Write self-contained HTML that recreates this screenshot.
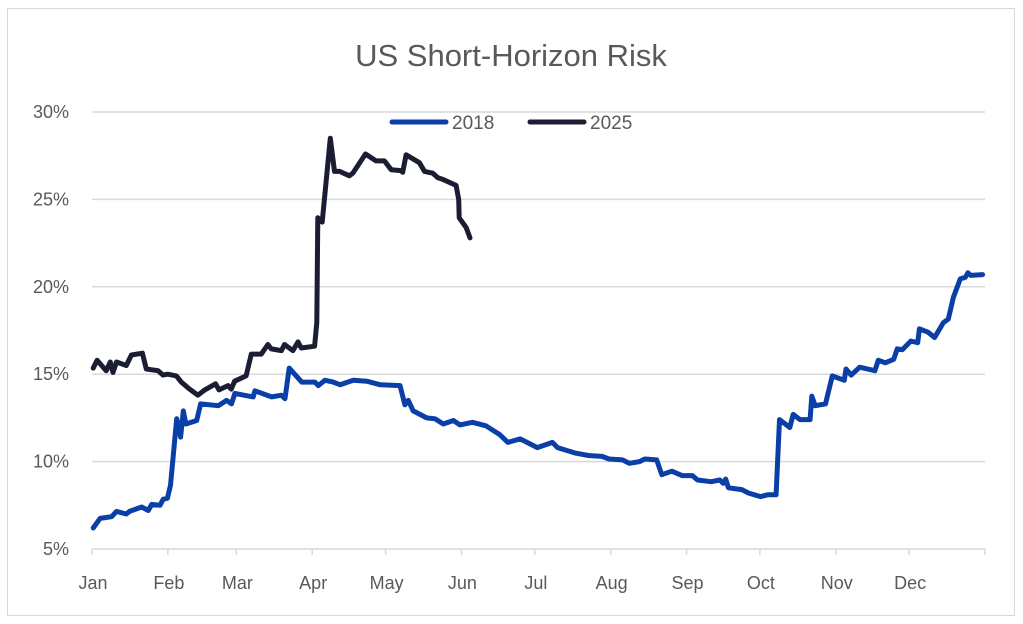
<!DOCTYPE html>
<html><head><meta charset="utf-8"><style>
body{margin:0;background:#fff;}
svg{display:block;font-family:"Liberation Sans",Arial,sans-serif;}
</style></head><body>
<svg width="1023" height="624" viewBox="0 0 1023 624">
<rect x="7.5" y="8.5" width="1007" height="607" fill="#fff" stroke="#d9d9d9"/>
<text x="511" y="66" text-anchor="middle" font-size="31" fill="#595959">US Short-Horizon Risk</text>
<g id="grid"></g><g id="axes"></g><g id="series"></g>
<g>
<line x1="392" y1="122" x2="446" y2="122" stroke="#0a3fa8" stroke-width="5" stroke-linecap="round"/>
<text x="452" y="129" font-size="19" fill="#595959">2018</text>
<line x1="530" y1="122" x2="584" y2="122" stroke="#1b1d33" stroke-width="5" stroke-linecap="round"/>
<text x="590" y="129" font-size="19" fill="#595959">2025</text>
</g>
</svg>
<script>
const months=["Jan","Feb","Mar","Apr","May","Jun","Jul","Aug","Sep","Oct","Nov","Dec"];
const monthStartDays=[0,31,59,90,120,151,181,212,243,273,304,334,365];
const yTicks=[5,10,15,20,25,30];
const yTickLabels=["5%","10%","15%","20%","25%","30%"];
const days2018=[0.5,3.3,8,10,14,15.3,20.3,23,24.4,27.8,29.1,30.8,32.1,34.6,36.2,37.3,38.4,42.8,44.4,51.6,55,57,58.4,65.9,66.6,73.4,77.5,78.9,80.6,85.7,91.1,92.5,95.2,98.6,101.4,106.8,112.3,117.7,125.9,127.9,129.3,131.3,136.8,140.2,143.6,147.7,150.4,155.5,161,166.6,170,175,182,188.2,190.3,197.3,202.9,208.5,211.3,216.8,219.6,223.8,225.9,230.8,232.9,237,241.2,245.4,247.5,253.1,256.6,258,259,260.1,265.6,268.4,273.3,276.1,279.6,281,285.2,286.6,289.4,293.5,294.2,295.6,299.8,302.6,307.5,308.2,310.3,313.8,320,321.4,324.2,327.7,329.1,331.2,334.7,337.5,338.2,341.7,344.4,348,350,352.1,354.9,357,358,359.2,364];
const values2018=[6.2,6.75,6.85,7.15,7.0,7.15,7.4,7.2,7.55,7.5,7.85,7.9,8.65,12.45,11.4,12.9,12.15,12.35,13.3,13.2,13.5,13.3,13.9,13.7,14.05,13.7,13.8,13.6,15.35,14.55,14.55,14.35,14.65,14.55,14.4,14.65,14.6,14.4,14.35,13.25,13.5,12.9,12.5,12.45,12.15,12.35,12.1,12.25,12.05,11.55,11.1,11.3,10.8,11.1,10.8,10.5,10.35,10.3,10.15,10.1,9.9,10.0,10.15,10.1,9.25,9.45,9.2,9.2,8.95,8.85,8.95,8.75,9.0,8.5,8.4,8.2,8.0,8.1,8.1,12.4,11.95,12.7,12.4,12.4,13.75,13.2,13.3,14.9,14.65,15.3,14.95,15.4,15.2,15.8,15.65,15.85,16.45,16.4,16.9,16.8,17.6,17.4,17.1,17.95,18.15,19.4,20.45,20.55,20.8,20.65,20.7];
const days2025=[0.5,2.1,5.8,7.5,8.6,10,14,16.1,20.6,22.2,27,29,31,34.5,36.5,39.9,43.3,46.1,50.5,51.9,55.6,56.9,58.3,63,65.1,69.2,71.9,73.3,77.4,78.7,82.1,84.2,85.5,91,91.9,92.3,94.1,97.4,99.1,101.2,105.2,106.6,111.8,116.1,119.5,122.3,126.3,127,128.4,133.8,135.9,139.3,141.3,143.3,148.8,149.9,150.1,152.9,154.5];
const values2025=[15.35,15.8,15.2,15.7,15.1,15.7,15.5,16.1,16.2,15.3,15.2,14.95,15.0,14.9,14.55,14.15,13.8,14.1,14.45,14.1,14.35,14.15,14.6,14.9,16.15,16.15,16.7,16.45,16.35,16.7,16.35,16.85,16.5,16.6,17.95,23.95,23.7,28.5,26.6,26.6,26.35,26.5,27.6,27.2,27.2,26.7,26.65,26.55,27.55,27.1,26.6,26.5,26.25,26.15,25.8,25.0,23.95,23.4,22.8];
const X0=92,X1=985,Y0=549,Y1=112;
const xs=d=>X0+(X1-X0)*d/365;
const ys=v=>Y0-(Y0-Y1)*(v-5)/25;
const NS="http://www.w3.org/2000/svg";
function mk(tag,attrs,parent,txt){const e=document.createElementNS(NS,tag);for(const k in attrs)e.setAttribute(k,attrs[k]);if(txt!=null)e.textContent=txt;parent.appendChild(e);return e;}
const grid=document.getElementById('grid'),axes=document.getElementById('axes'),series=document.getElementById('series');
yTicks.forEach((t,i)=>{
 if(t>5){const l=mk('line',{x1:X0,x2:X1,y1:ys(t),y2:ys(t),stroke:'#d9d9d9','stroke-width':1.5},grid);
 
 }
 const tx=mk('text',{x:69,y:ys(t)+6,'text-anchor':'end','font-size':18,fill:'#595959'},axes,yTickLabels[i]);
 
 
});
const ax=mk('line',{x1:X0,x2:X1,y1:Y0,y2:Y0,stroke:'#d9d9d9','stroke-width':1.5},axes);


monthStartDays.forEach(d=>{const t=mk('line',{x1:xs(d),x2:xs(d),y1:Y0,y2:Y0+6,stroke:'#d9d9d9','stroke-width':1.5},axes);
 
 });
months.forEach((m,i)=>{const t=mk('text',{x:xs(monthStartDays[i])+1,y:589,'text-anchor':'middle','font-size':18,fill:'#595959'},axes,m);
 
 });
function line(days,vals,color,name){
 const d=days.map((x,i)=>(i?'L':'M')+xs(x).toFixed(1)+','+ys(vals[i]).toFixed(1)).join(' ');
 const p=mk('path',{d:d,fill:'none',stroke:color,'stroke-width':5,'stroke-linejoin':'round','stroke-linecap':'round'},series);
 
 
}
line(days2018,values2018,'#0a3fa8','series-2018');
line(days2025,values2025,'#1b1d33','series-2025');
</script>
</body></html>
